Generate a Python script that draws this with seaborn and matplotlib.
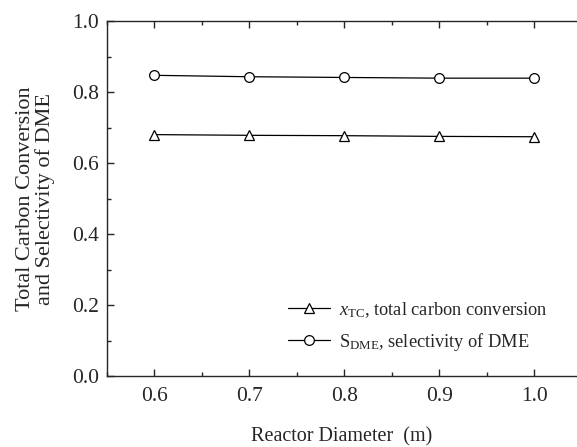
import numpy as np
import pandas as pd
import matplotlib
matplotlib.use("Agg")
import matplotlib.pyplot as plt
import seaborn as sns
from matplotlib.ticker import MultipleLocator

# ==============================================================================
# Datos
# ==============================================================================
diametro = [0.6, 0.7, 0.8, 0.9, 1.0]
conversion_tc = [0.680, 0.678, 0.677, 0.675, 0.674]
selectividad_dme = [0.847, 0.843, 0.841, 0.839, 0.839]

etiqueta_tc = r"$x_{\mathrm{TC}}$, total carbon conversion"
etiqueta_dme = r"S$_{\mathrm{DME}}$, selectivity of DME"

df = pd.DataFrame({
    "diametro": diametro * 2,
    "valor": conversion_tc + selectividad_dme,
    "serie": [etiqueta_tc] * len(diametro) + [etiqueta_dme] * len(diametro),
})

# ==============================================================================
# Estilo
# ==============================================================================
sns.set_style("ticks")
plt.rcParams["font.family"] = ["Liberation Serif", "DejaVu Serif"]
plt.rcParams["mathtext.fontset"] = "custom"
plt.rcParams["mathtext.rm"] = "Liberation Serif"
plt.rcParams["mathtext.it"] = "Liberation Serif:italic"
plt.rcParams["axes.linewidth"] = 1.0

fig = plt.figure(figsize=(5.77, 4.47), dpi=100)
ax = fig.add_axes([0.1854, 0.1588, 0.8146, 0.7942])

marcadores = {etiqueta_tc: "^", etiqueta_dme: "o"}
for serie, grupo in df.groupby("serie", sort=False):
    sns.lineplot(data=grupo, x="diametro", y="valor", ax=ax, color="black",
                 marker=marcadores[serie], markersize=7, markerfacecolor="white",
                 markeredgecolor="black", markeredgewidth=0.9, linewidth=0.9,
                 label=serie)

ax.set_xlim(0.55, 1.045)
ax.set_ylim(0.0, 1.0)
ax.xaxis.set_major_locator(MultipleLocator(0.1))
ax.xaxis.set_minor_locator(MultipleLocator(0.05))
ax.yaxis.set_major_locator(MultipleLocator(0.2))
ax.yaxis.set_minor_locator(MultipleLocator(0.1))
ax.xaxis.set_major_formatter(matplotlib.ticker.FormatStrFormatter("%.1f"))
ax.yaxis.set_major_formatter(matplotlib.ticker.FormatStrFormatter("%.1f"))

ax.tick_params(axis="both", which="both", direction="in", labelsize=15.5, width=1.0)
ax.tick_params(axis="both", which="major", length=5, pad=6)
ax.tick_params(axis="both", which="minor", length=3)
ax.tick_params(axis="x", which="both", top=True)
ax.tick_params(axis="x", which="both", labeltop=False)
ax.tick_params(axis="x", which="major", pad=8)

ax.spines["right"].set_visible(False)

ax.set_xlabel("Reactor Diameter  (m)", fontsize=14.5, labelpad=15)
ax.set_ylabel("Total Carbon Conversion\nand Selectivity of DME", fontsize=16,
              labelpad=12, linespacing=1.0)

ax.legend(loc="lower right", bbox_to_anchor=(0.96, 0.035), frameon=False,
          fontsize=13.2, handlelength=2.3, handletextpad=0.45, labelspacing=0.6,
          borderaxespad=0.2)

plt.savefig("out.png", dpi=100)
